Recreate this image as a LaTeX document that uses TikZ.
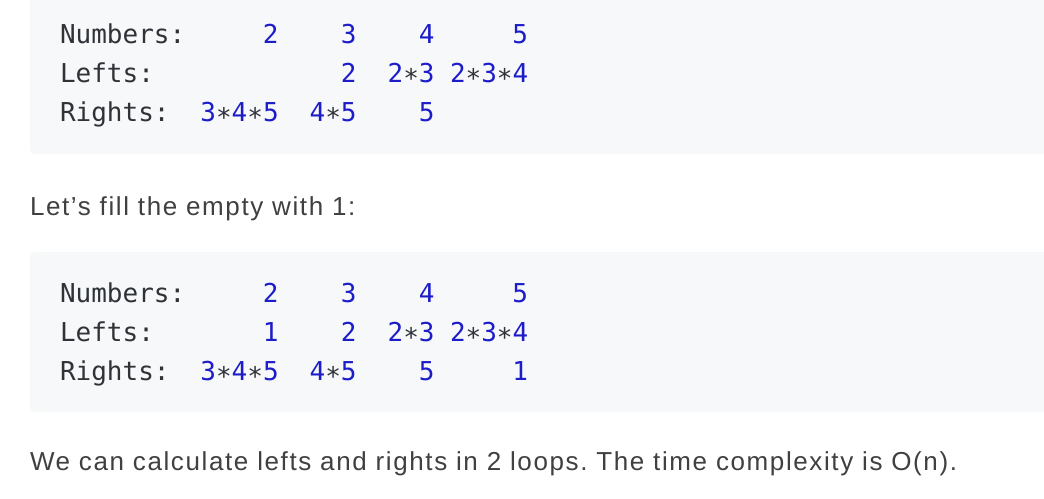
\documentclass[tikz,border=0pt]{standalone}
\usepackage{fontspec}
\setmonofont{DejaVu Sans Mono}
\setsansfont{Liberation Sans}[LetterSpace=6.2]
\definecolor{codebg}{HTML}{F6F8FA}
\definecolor{numblue}{HTML}{1C1CC8}
\definecolor{codefg}{HTML}{2F3337}
\definecolor{textfg}{HTML}{404040}
\newcommand{\mulsym}{\textcolor{codefg}{∗}}
\frenchspacing
\tikzset{
  code/.style={anchor=base west, inner sep=0pt, outer sep=0pt, font=\ttfamily\fontsize{26}{30}\selectfont, text=codefg},
  num/.style={code, text=numblue},
  prose/.style={anchor=base west, inner sep=0pt, outer sep=0pt, font=\sffamily\fontsize{26}{32}\selectfont, text=textfg},
  codebox/.style={fill=codebg, rounded corners=4pt}
}
\begin{document}
\begin{tikzpicture}[x=1pt,y=-1pt]
\useasboundingbox (0,0) rectangle (1044,498);
\clip (0,0) rectangle (1044,498);
\fill[white] (0,0) rectangle (1044,498);
% code boxes
\fill[codebox] (30,-20) rectangle (1070,154);
\fill[codebox] (30,252) rectangle (1070,412);
% first block
\node[code] (aN) at (60,43) {Numbers:};
\node[num] (aN1) at (262.8,43) {2};
\node[num] (aN2) at (340.8,43) {3};
\node[num] (aN3) at (418.8,43) {4};
\node[num] (aN4) at (512.4,43) {5};
\node[code] (aL) at (60,82) {Lefts:};
\node[num] (aL2) at (340.8,82) {2};
\node[num] (aL3) at (387.6,82) {2\mulsym3};
\node[num] (aL4) at (450,82) {2\mulsym3\mulsym4};
\node[code] (aR) at (60,121) {Rights:};
\node[num] (aR1) at (200.4,121) {3\mulsym4\mulsym5};
\node[num] (aR2) at (309.6,121) {4\mulsym5};
\node[num] (aR3) at (418.8,121) {5};
% text
\node[prose] (t1) at (30,215) {Let’s fill the empty with 1:};
% second block
\node[code] (bN) at (60,302) {Numbers:};
\node[num] (bN1) at (262.8,302) {2};
\node[num] (bN2) at (340.8,302) {3};
\node[num] (bN3) at (418.8,302) {4};
\node[num] (bN4) at (512.4,302) {5};
\node[code] (bL) at (60,341) {Lefts:};
\node[num] (bL1) at (262.8,341) {1};
\node[num] (bL2) at (340.8,341) {2};
\node[num] (bL3) at (387.6,341) {2\mulsym3};
\node[num] (bL4) at (450,341) {2\mulsym3\mulsym4};
\node[code] (bR) at (60,380) {Rights:};
\node[num] (bR1) at (200.4,380) {3\mulsym4\mulsym5};
\node[num] (bR2) at (309.6,380) {4\mulsym5};
\node[num] (bR3) at (418.8,380) {5};
\node[num] (bR4) at (512.4,380) {1};
\node[prose] (t2) at (30,470) {We can calculate lefts and rights in 2 loops. The time complexity is O(n).};
\end{tikzpicture}
\end{document}
